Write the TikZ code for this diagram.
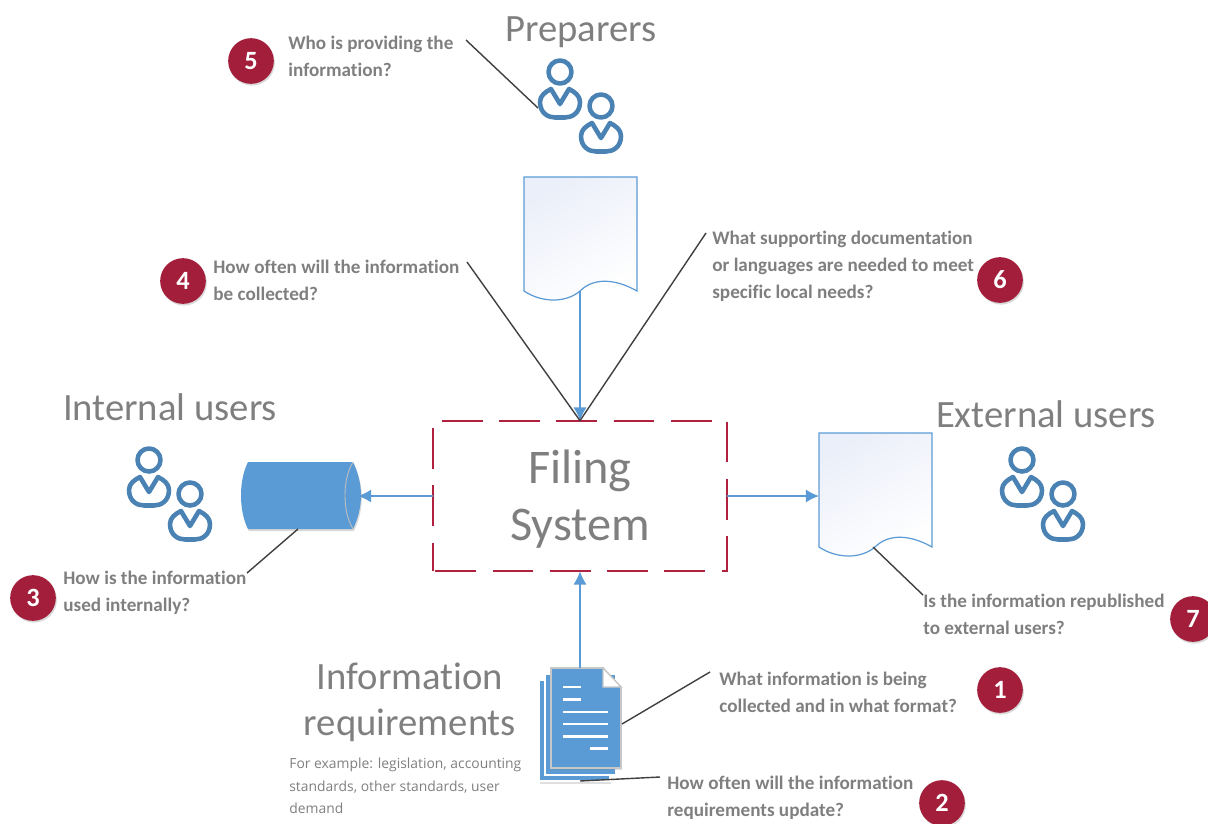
\documentclass[tikz,border=0pt]{standalone}
\usepackage{fontspec}
\setmainfont[Ligatures=NoCommon]{Carlito}
\newfontfamily\notefont{Open Sans}
\usetikzlibrary{arrows.meta,shadows}
\definecolor{flowblue}{HTML}{5B9BD5}
\definecolor{iconblue}{HTML}{4A82B4}
\definecolor{filingred}{HTML}{B0213F}
\definecolor{labelgrey}{HTML}{7F7F7F}
\definecolor{leadergrey}{HTML}{404040}
\definecolor{pagetint}{HTML}{EBEFF9}
\tikzset{
  heading/.style={text=labelgrey, align=center, font=\fontsize{22}{26}\selectfont, inner sep=0pt},
  question/.style={anchor=north west, text=labelgrey, align=left, inner sep=0pt, font=\fontsize{10.9}{15.3}\selectfont\bfseries},
  badge/.style={circle, fill=filingred!92!black, text=white, minimum size=26pt, inner sep=0pt, font=\fontsize{15}{15}\selectfont\bfseries, drop shadow={shadow xshift=0.6pt, shadow yshift=-1pt, opacity=0.3}},
  flow/.style={->, flowblue, line width=0.85pt},
  leader/.style={leadergrey, line width=0.8pt},
  sheet/.style={fill=flowblue, draw=white, line width=0.9pt},
  bar/.style={white, line width=1.5pt}
}
% one person, origin at the centre of the head
\newcommand{\onePerson}[2]{%
  \begin{scope}[shift={(#1, #2)}]%
    \draw[iconblue, line width=2.6pt, line join=round] (0, 0) circle (11.5);
    \draw[iconblue, line width=2.6pt, line join=round] (0, 32) -- (-9, 17)
      .. controls (-15, 20) and (-20, 24) .. (-20, 30)
      .. controls (-20, 41) and (-12, 45.5) .. (-5, 45.5)
      -- (5, 45.5)
      .. controls (12, 45.5) and (20, 41) .. (20, 30)
      .. controls (20, 24) and (15, 20) .. (9, 17) -- cycle;
  \end{scope}%
}
\newcommand{\userPair}[2]{%
  \onePerson{#1}{#2}
  \onePerson{#1 + 41}{#2 + 34}
}
% page with a wavy foot, origin at the top left corner
\newcommand{\wavePage}[3]{%
  \begin{scope}[shift={(#1, #2)}]%
    \path[draw=flowblue, line width=0.7pt, left color=pagetint, right color=white, shading angle=30]
      (0, 0) -- (113, 0) -- (113, 114)
      .. controls (92, 102) and (70, 100) .. (56, 114)
      .. controls (42, 126) and (18, 126) .. (0, 114) -- cycle;
    \coordinate (#3) at (56, 114);
    \coordinate (#3side) at (0, 63);
  \end{scope}%
}

\begin{document}
\begin{tikzpicture}[x=0.02cm, y=-0.02cm, >={Latex[length=7.5pt, width=7.5pt]}]
  \path[use as bounding box, clip] (0, 0) rectangle (1208, 823);

  % Filing system in the middle
  \node[minimum width=5.88cm, minimum height=3cm, inner sep=0pt] (filing) at (580, 496) {};
  \node[text=labelgrey, align=center, inner sep=0pt, font=\fontsize{27.5}{32}\selectfont] (filingtext) at (580, 499) {Filing\\System};
  \draw[filingred, dash pattern=on 23.2pt off 9.4pt, dash phase=6.8pt, line width=1.3pt]
    (filing.south west) -- (filing.north west) -- (filing.north east) -- (filing.south east) -- cycle;

  % Headings
  \node[heading] (preparers) at (581, 32) {Preparers};
  \node[heading] (internal) at (170, 407) {Internal users};
  \node[heading] (external) at (1046, 414) {External users};
  \node[heading] (requirements) at (410, 702) {Information\\requirements};
  \node[anchor=north west, inner sep=0pt, align=left, text=labelgrey, font=\notefont\fontsize{7.9}{12.8}\selectfont] (example) at (289, 758)
    {For example: legislation, accounting\\standards, other standards, user\\demand};

  % People
  \userPair{560}{72}
  \userPair{149}{460}
  \userPair{1022}{460}

  % Pages
  \wavePage{524}{177}{prepdoc}
  \wavePage{819}{433}{extdoc}

  % Drum
  \path[fill=flowblue, drop shadow={shadow xshift=0.5pt, shadow yshift=-1.2pt, opacity=0.3}]
    (248, 462) -- (353, 462) .. controls (358, 472) and (361, 484) .. (361, 495.5)
    .. controls (361, 507) and (358, 519) .. (353, 529) -- (248, 529)
    .. controls (243, 519) and (241, 507) .. (241, 495.5)
    .. controls (241, 484) and (243, 472) .. (248, 462) -- cycle;
  \draw[black!25, line width=0.5pt] (353, 462) .. controls (347, 472) and (345, 484) .. (345, 495.5)
    .. controls (345, 507) and (347, 519) .. (353, 529);
  \coordinate (drum) at (358, 496);
  \coordinate (drumfoot) at (298, 529);

  % Stack of sheets
  \path[sheet, drop shadow={shadow xshift=0.5pt, shadow yshift=-1.5pt, opacity=0.25}] (539, 680) rectangle (610, 781);
  \path[sheet] (545, 674) rectangle (616, 775);
  \path[fill=flowblue, draw=black!22, line width=0.9pt, drop shadow={shadow xshift=0.5pt, shadow yshift=-1pt, opacity=0.25}]
    (551, 668) -- (603, 668) -- (621, 687) -- (621, 768) -- (551, 768) -- cycle;
  \path[fill=white, draw=black!22, line width=0.7pt] (603, 668) -- (621, 687) -- (603, 687) -- cycle;
  \draw[bar] (563, 687) -- (581, 687);
  \draw[bar] (563, 699.5) -- (581, 699.5);
  \draw[bar] (563, 712) -- (608, 712);
  \draw[bar] (563, 724) -- (608, 724);
  \draw[bar] (563, 736.5) -- (608, 736.5);
  \draw[bar] (590, 748.5) -- (608, 748.5);
  \coordinate (stacktop) at (580, 668);
  \coordinate (stackside) at (622, 724);
  \coordinate (stackfoot) at (580, 781);

  % Questions
  \node[question] (q5) at (288, 36) {Who is providing the\\information?};
  \node[question] (q4) at (213, 260) {How often will the information\\be collected?};
  \node[question] (q6) at (712, 231) {What supporting documentation\\or languages are needed to meet\\specific local needs?};
  \node[question] (q3) at (63, 571) {How is the information\\used internally?};
  \node[question] (q7) at (923, 594) {Is the information republished\\to external users?};
  \node[question] (q1) at (719, 672) {What information is being\\collected and in what format?};
  \node[question] (q2) at (667, 776) {How often will the information\\requirements update?};

  % Numbered badges
  \node[badge] (b5) at (251, 61) {5};
  \node[badge] (b4) at (183, 281) {4};
  \node[badge] (b6) at (1000, 280) {6};
  \node[badge] (b3) at (33, 598) {3};
  \node[badge] (b7) at (1193, 619) {7};
  \node[badge] (b1) at (1000, 690) {1};
  \node[badge] (b2) at (942, 803) {2};

  % Leader ends
  \coordinate (q5end) at (466, 40);
  \coordinate (prepperson) at (538, 108);
  \coordinate (q4end) at (467, 262);
  \coordinate (q6end) at (706, 233);
  \coordinate (q3end) at (247, 573);
  \coordinate (q7end) at (923, 595);
  \coordinate (q1end) at (710, 672);
  \coordinate (q2end) at (660, 777);
  \coordinate (extwave) at (873, 547);

  \draw[leader] (q5end) -- (prepperson);
  \draw[flow] (prepdoc) -- (filing.north);
  \draw[leader] (q4end) -- (filing.north);
  \draw[leader] (q6end) -- (filing.north);
  \draw[leader] (q3end) -- (drumfoot);
  \draw[leader] (q7end) -- (extwave);
  \draw[leader] (q1end) -- (stackside);
  \draw[leader] (q2end) -- (stackfoot);

  % Connect the boxes
  \draw[flow] (filing.west) -- (drum);
  \draw[flow] (filing.east) -- (extdocside);
  \draw[flow] (stacktop) -- (filing.south);
\end{tikzpicture}
\end{document}
